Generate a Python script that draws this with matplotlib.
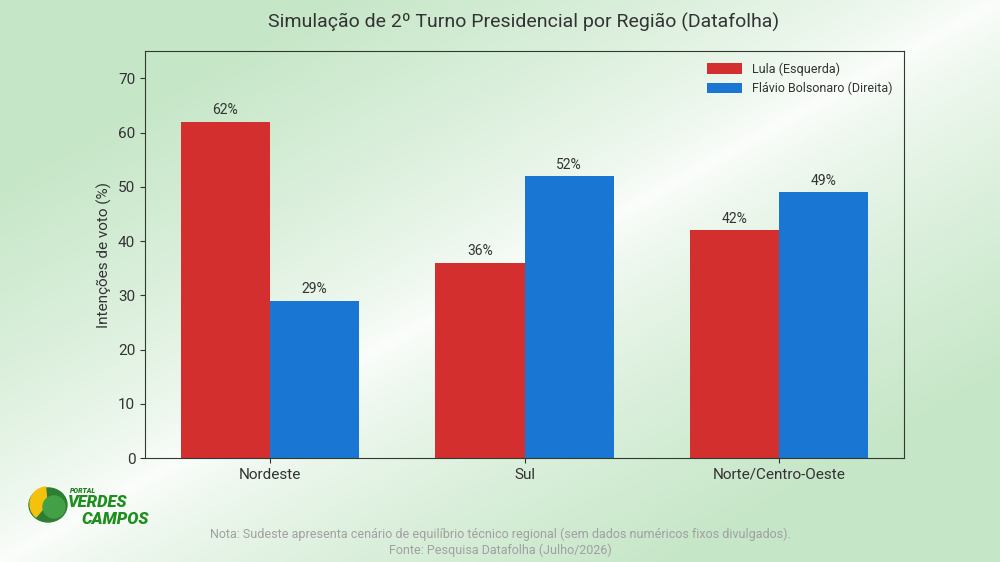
import numpy as np
import matplotlib
matplotlib.use("Agg")
import matplotlib.pyplot as plt
from matplotlib.patches import Ellipse, Wedge

regioes = ["Nordeste", "Sul", "Norte/Centro-Oeste"]
lula = [62, 36, 42]
flavio = [29, 52, 49]
serieNomes = ["Lula (Esquerda)", "Flávio Bolsonaro (Direita)"]
titulo = "Simulação de 2º Turno Presidencial por Região (Datafolha)"
nota = ("Nota: Sudeste apresenta cenário de equilíbrio técnico regional "
        "(sem dados numéricos fixos divulgados).\nFonte: Pesquisa Datafolha (Julho/2026)")

plt.rcParams["font.family"] = ["Roboto", "DejaVu Sans"]

corLula = "#d32f2f"
corFlavio = "#1976d2"
texto = "#333333"

fig = plt.figure(figsize=(10, 5.62), dpi=100)

# fundo em degrade: verde nos cantos superior esquerdo e inferior direito
bg = fig.add_axes([0, 0, 1, 1], zorder=-10)
u, v = np.meshgrid(np.linspace(0, 1, 400), np.linspace(0, 1, 225))
d = np.clip(np.abs(u + v - 1.0) * 1.5, 0, 1) ** 0.7
verde = np.array([0.78, 0.905, 0.785])
branco = np.array([0.99, 0.995, 0.99])
img = branco[None, None, :] * (1 - d[..., None]) + verde[None, None, :] * d[..., None]
bg.imshow(img, aspect="auto", extent=[0, 1, 0, 1], origin="upper")
bg.set_axis_off()

ax = fig.add_axes([0.145, 0.185, 0.759, 0.724])
ax.patch.set_alpha(0)

x = np.arange(len(regioes))
width = 0.35
b1 = ax.bar(x - width / 2, lula, width, color=corLula, label=serieNomes[0])
b2 = ax.bar(x + width / 2, flavio, width, color=corFlavio, label=serieNomes[1])

for bars in (b1, b2):
    for b in bars:
        ax.text(b.get_x() + b.get_width() / 2, b.get_height() + 0.8, "%d%%" % b.get_height(),
                ha="center", va="bottom", fontsize=10, color=texto)

ax.set_xlim(-0.49, 2.49)
ax.set_ylim(0, 75)
ax.set_yticks(np.arange(0, 71, 10))
ax.set_xticks(x)
ax.set_xticklabels(regioes)
ax.tick_params(labelsize=11, colors=texto)
ax.set_ylabel("Intenções de voto (%)", fontsize=11, color=texto)
for s in ax.spines.values():
    s.set_color("#2f3b2f")

ax.legend(loc="upper right", frameon=False, fontsize=9, labelcolor=texto,
          handlelength=2.8, handleheight=0.9)

fig.text(0.524, 0.96, titulo, ha="center", va="center", fontsize=14, color=texto)
fig.text(0.5, 0.035, nota, ha="center", va="center", fontsize=9, color="#a0a0a0",
         linespacing=1.2)

# logo aproximado
lg = fig.add_axes([0.02, 0.057, 0.16, 0.089])
lg.set_xlim(0, 160)
lg.set_ylim(0, 50)
lg.set_axis_off()
lg.add_patch(Ellipse((28, 25), 38, 34, color="#2e7d32"))
lg.add_patch(Wedge((27, 26), 17, 95, 230, color="#f4c20d"))
lg.add_patch(Ellipse((34, 23), 22, 22, color="#43a047"))
lg.text(50, 37, "PORTAL", fontsize=5, fontweight="heavy", style="italic", color="#1b7a1b")
lg.text(48, 23, "VERDES", fontsize=12, fontweight="heavy", style="italic", color="#1e8e1e")
lg.text(61, 6, "CAMPOS", fontsize=12, fontweight="heavy", style="italic", color="#1e8e1e")

fig.savefig("out.png", dpi=100)
